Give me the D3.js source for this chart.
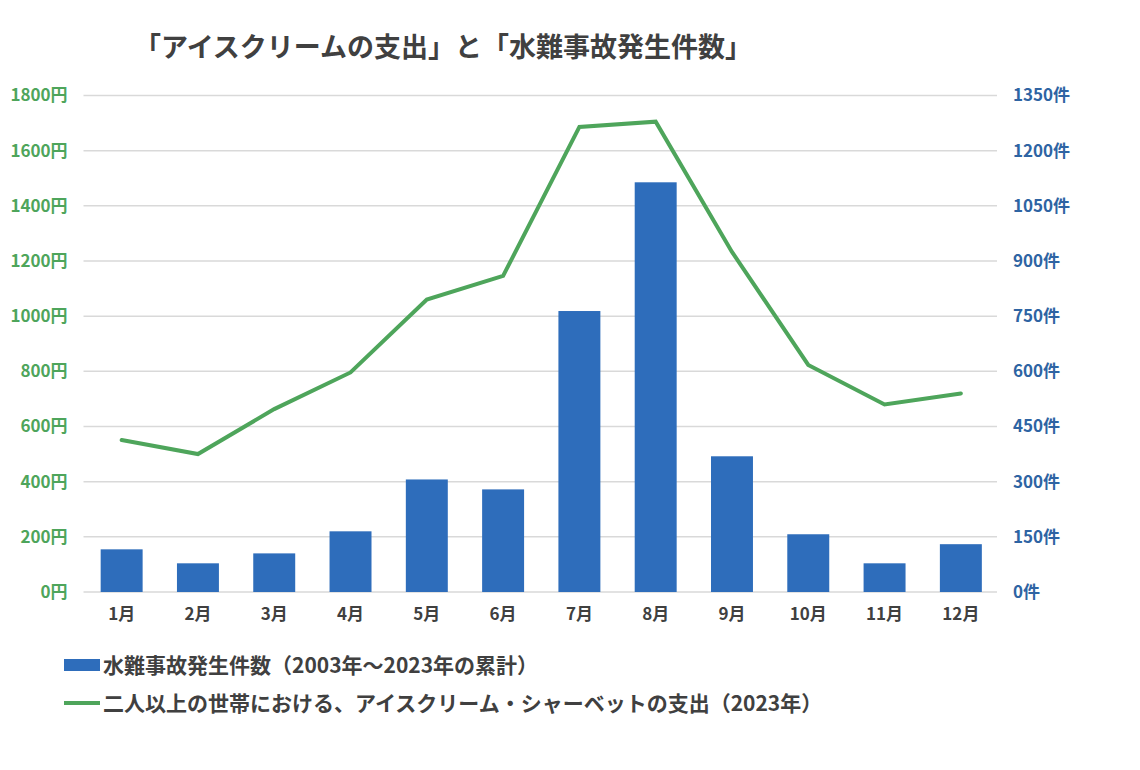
<!DOCTYPE html>
<html>
<head>
<meta charset="utf-8">
<script src="https://cdn.jsdelivr.net/npm/d3@7"></script>
<style>
  html, body { margin: 0; padding: 0; background: #ffffff; }
  svg { display: block; font-family: "Noto Sans CJK JP", "Noto Sans", sans-serif; }
</style>
</head>
<body>
<svg id="chart" width="1140" height="770"></svg>
<script>
const months = ["1月","2月","3月","4月","5月","6月","7月","8月","9月","10月","11月","12月"];
const accidents = [116, 78, 105, 165, 306, 279, 764, 1114, 369, 157, 78, 130];
const iceSpending = [551, 500, 663, 796, 1060, 1146, 1686, 1705, 1233, 823, 680, 720];
const leftTicks = [0, 200, 400, 600, 800, 1000, 1200, 1400, 1600, 1800];
const rightTicks = [0, 150, 300, 450, 600, 750, 900, 1050, 1200, 1350];
const titleText = "「アイスクリームの支出」と「水難事故発生件数」";
const legendBar = "水難事故発生件数（2003年〜2023年の累計）";
const legendLine = "二人以上の世帯における、アイスクリーム・シャーベットの支出（2023年）";

const svg = d3.select("#chart");
const W = 1140, H = 770;
svg.append("rect").attr("width", W).attr("height", H).attr("fill", "#ffffff");

const plot = { left: 83.5, right: 999, top: 95.5, bottom: 592 };
const barColor = "#2e6dbb";
const lineColor = "#4ea55b";
const leftColor = "#4ea55b";
const rightColor = "#2e64a3";
const textDark = "#404040";

const x = d3.scaleBand().domain(months).range([plot.left, plot.right]).paddingInner(0.45).paddingOuter(0.225);
const yL = d3.scaleLinear().domain([0, 1800]).range([plot.bottom, plot.top]);
const yR = d3.scaleLinear().domain([0, 1350]).range([plot.bottom, plot.top]);

// gridlines
svg.append("g").selectAll("line").data(leftTicks).join("line")
  .attr("x1", plot.left).attr("x2", plot.right - 2)
  .attr("y1", d => yL(d)).attr("y2", d => yL(d))
  .attr("stroke", "#d9d9d9").attr("stroke-width", 1.5);

// left axis
const gL = svg.append("g").attr("transform", `translate(${plot.left - 16},0)`)
  .call(d3.axisLeft(yL).tickValues(leftTicks).tickSize(0).tickPadding(0).tickFormat(d => d + "円"));
gL.select(".domain").remove();
gL.selectAll("text").attr("fill", leftColor).attr("font-size", 17).attr("font-weight", 700)
  .attr("font-family", '"Noto Sans CJK JP", sans-serif');

// right axis
const gR = svg.append("g").attr("transform", `translate(${plot.right + 14},0)`)
  .call(d3.axisRight(yR).tickValues(rightTicks).tickSize(0).tickPadding(0).tickFormat(d => d + "件"));
gR.select(".domain").remove();
gR.selectAll("text").attr("fill", rightColor).attr("font-size", 17).attr("font-weight", 700)
  .attr("font-family", '"Noto Sans CJK JP", sans-serif');

// x axis
const gX = svg.append("g").attr("transform", `translate(0,${plot.bottom + 16})`)
  .call(d3.axisBottom(x).tickSize(0).tickPadding(0));
gX.select(".domain").remove();
gX.selectAll("text").attr("fill", textDark).attr("font-size", 17).attr("font-weight", 700)
  .attr("font-family", '"Noto Sans CJK JP", sans-serif').attr("dy", "0.68em");

// bars
svg.append("g").selectAll("rect").data(accidents).join("rect")
  .attr("x", (d, i) => x(months[i]))
  .attr("width", x.bandwidth())
  .attr("y", d => yR(d))
  .attr("height", d => yR(0) - yR(d))
  .attr("fill", barColor);

// line
const line = d3.line().x((d, i) => x(months[i]) + x.bandwidth() / 2).y(d => yL(d));
svg.append("path").datum(iceSpending)
  .attr("d", line).attr("fill", "none").attr("stroke", lineColor)
  .attr("stroke-width", 4).attr("stroke-linejoin", "miter").attr("stroke-linecap", "round");

// title
svg.append("text").attr("x", 443).attr("y", 57).attr("text-anchor", "middle")
  .attr("font-size", 27).attr("font-weight", 700).attr("fill", textDark)
  .text(titleText);

// legend
const lg = svg.append("g");
lg.append("rect").attr("x", 64).attr("y", 659).attr("width", 36).attr("height", 12).attr("fill", barColor);
lg.append("text").attr("x", 103).attr("y", 673).attr("font-size", 21).attr("font-weight", 700)
  .attr("fill", textDark).text(legendBar);
lg.append("line").attr("x1", 64).attr("x2", 100).attr("y1", 703).attr("y2", 703)
  .attr("stroke", lineColor).attr("stroke-width", 4);
lg.append("text").attr("x", 103).attr("y", 711).attr("font-size", 21).attr("font-weight", 700)
  .attr("fill", textDark).text(legendLine);
</script>
</body>
</html>
